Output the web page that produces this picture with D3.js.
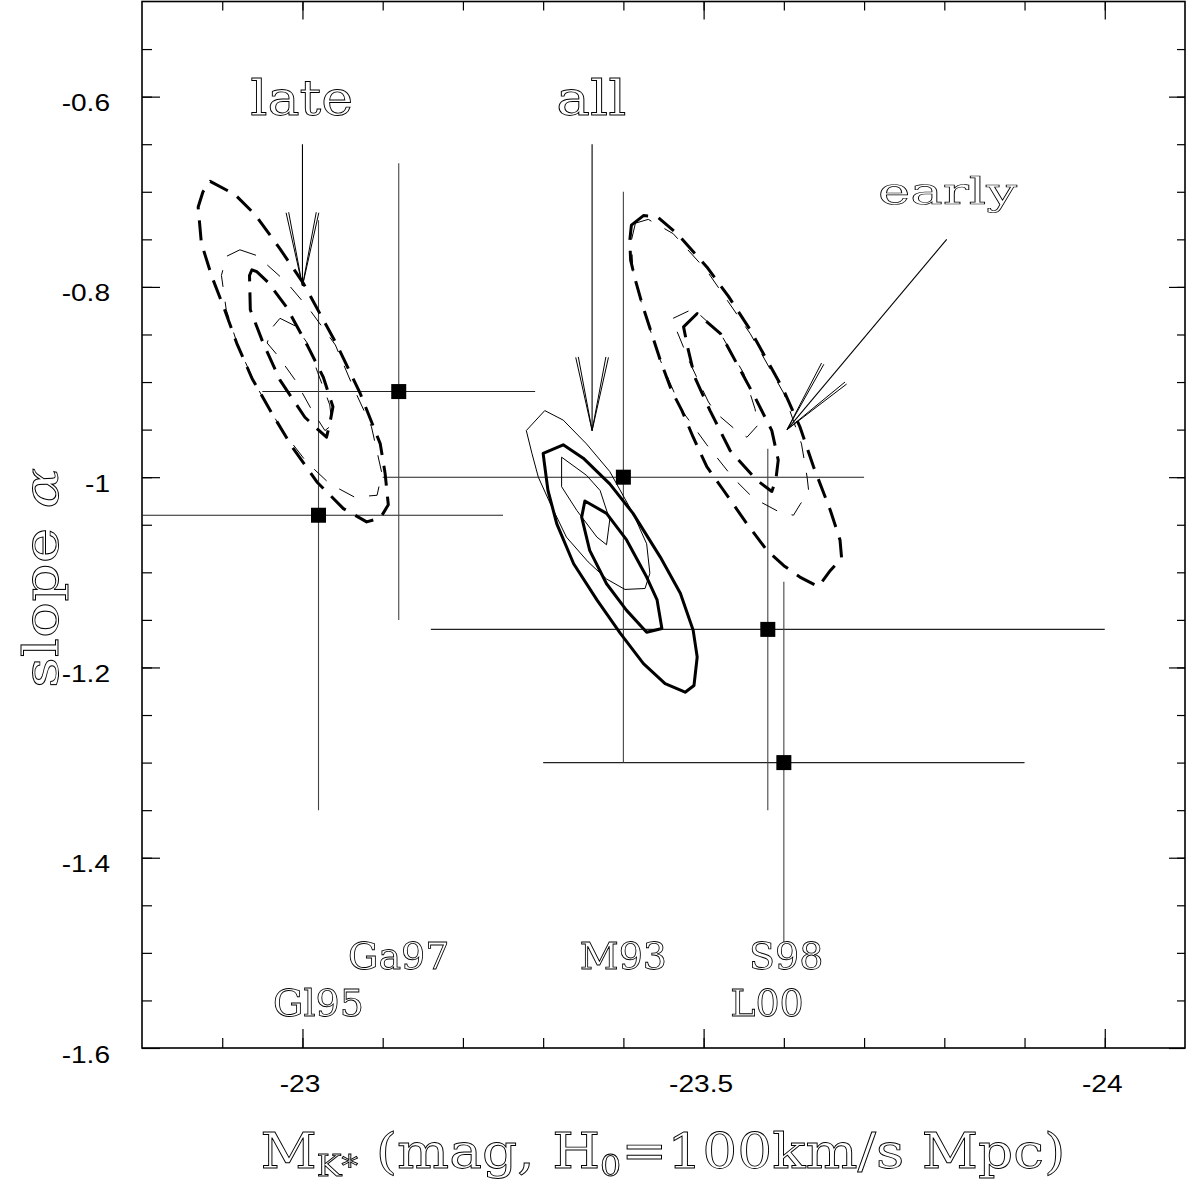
<!DOCTYPE html>
<html>
<head>
<meta charset="utf-8">
<script src="https://cdn.jsdelivr.net/npm/d3@7"></script>
<style>
  body { margin: 0; background: #fff; }
  .word { will-change: transform; }
</style>
</head>
<body>
<svg id="chart" width="1188" height="1183"></svg>
<script>
// ---- data ----
// literature points: M_K* and faint-end slope alpha with their errors
const sampleNames = ["Gl95", "Ga97", "M93", "S98", "L00"];
const magStar     = [-23.02, -23.12, -23.40, -23.58, -23.60];
const slopeAlpha  = [-1.04, -0.91, -1.00, -1.16, -1.30];
const magErr      = [0.23, 0.17, 0.30, 0.42, 0.30];
const slopeErr    = [0.31, 0.24, 0.30, 0.19, 0.19];
// where the sample names sit
const nameMag     = [-23.02, -23.12, -23.40, -23.603, -23.579];
const nameSlope   = [-1.566, -1.517, -1.517, -1.517, -1.566];

// likelihood contours, [M, alpha]
const lateThickOuter = [[-22.885,-0.689],[-22.916,-0.703],[-22.941,-0.724],[-22.972,-0.760],[-23.001,-0.796],[-23.043,-0.861],[-23.072,-0.912],[-23.097,-0.965],[-23.103,-0.996],[-23.107,-1.029],[-23.097,-1.043],[-23.080,-1.047],[-23.051,-1.033],[-23.018,-1.005],[-22.987,-0.968],[-22.962,-0.933],[-22.937,-0.896],[-22.918,-0.859],[-22.903,-0.824],[-22.887,-0.789],[-22.874,-0.754],[-22.870,-0.716],[-22.876,-0.700]];
const lateThickInner = [[-22.937,-0.782],[-22.943,-0.784],[-22.957,-0.795],[-22.980,-0.821],[-23.007,-0.863],[-23.026,-0.895],[-23.038,-0.926],[-23.034,-0.944],[-23.030,-0.958],[-23.018,-0.949],[-23.003,-0.937],[-22.972,-0.898],[-22.951,-0.859],[-22.935,-0.824],[-22.934,-0.788]];
const lateThinOuter = [[-22.922,-0.761],[-22.943,-0.767],[-22.980,-0.795],[-23.009,-0.824],[-23.041,-0.861],[-23.063,-0.905],[-23.086,-0.947],[-23.099,-0.996],[-23.093,-1.019],[-23.065,-1.021],[-23.034,-1.007],[-23.005,-0.984],[-22.984,-0.961],[-22.972,-0.947],[-22.943,-0.905],[-22.920,-0.863],[-22.905,-0.824],[-22.899,-0.788],[-22.905,-0.768]];
const lateThinInner = [[-22.972,-0.833],[-22.991,-0.841],[-23.006,-0.859],[-23.019,-0.890],[-23.034,-0.924],[-23.037,-0.945],[-23.028,-0.951],[-23.012,-0.930],[-22.991,-0.898],[-22.969,-0.872],[-22.956,-0.859],[-22.962,-0.843]];

const allThinOuter = [[-23.302,-0.930],[-23.325,-0.940],[-23.354,-0.965],[-23.383,-0.994],[-23.412,-1.038],[-23.429,-1.070],[-23.433,-1.101],[-23.427,-1.117],[-23.402,-1.118],[-23.379,-1.107],[-23.356,-1.089],[-23.329,-1.063],[-23.309,-1.028],[-23.294,-1.000],[-23.286,-0.975],[-23.279,-0.951]];
const allThickOuter = [[-23.300,-0.975],[-23.325,-0.966],[-23.350,-0.980],[-23.383,-1.007],[-23.412,-1.038],[-23.446,-1.084],[-23.471,-1.122],[-23.487,-1.161],[-23.492,-1.189],[-23.488,-1.219],[-23.477,-1.226],[-23.452,-1.217],[-23.425,-1.196],[-23.396,-1.164],[-23.367,-1.129],[-23.338,-1.091],[-23.317,-1.049],[-23.306,-1.014],[-23.301,-0.982]];
const allThinInner = [[-23.323,-0.979],[-23.354,-0.998],[-23.371,-1.014],[-23.383,-1.045],[-23.379,-1.071],[-23.367,-1.063],[-23.342,-1.035],[-23.323,-1.010]];
const allThickInner = [[-23.352,-1.025],[-23.379,-1.038],[-23.404,-1.066],[-23.429,-1.105],[-23.442,-1.129],[-23.448,-1.159],[-23.429,-1.163],[-23.404,-1.140],[-23.379,-1.112],[-23.358,-1.077],[-23.348,-1.042]];

const earlyThickOuter = [[-23.410,-0.735],[-23.425,-0.725],[-23.442,-0.726],[-23.467,-0.744],[-23.504,-0.779],[-23.531,-0.810],[-23.558,-0.845],[-23.579,-0.877],[-23.600,-0.909],[-23.620,-0.947],[-23.637,-0.989],[-23.658,-1.035],[-23.670,-1.066],[-23.672,-1.085],[-23.658,-1.098],[-23.643,-1.115],[-23.620,-1.105],[-23.600,-1.093],[-23.579,-1.077],[-23.554,-1.049],[-23.525,-1.014],[-23.504,-0.989],[-23.487,-0.958],[-23.473,-0.930],[-23.460,-0.909],[-23.446,-0.877],[-23.431,-0.838],[-23.423,-0.817],[-23.415,-0.793],[-23.409,-0.772],[-23.408,-0.751]];
const earlyThickInner = [[-23.475,-0.842],[-23.492,-0.828],[-23.521,-0.849],[-23.541,-0.880],[-23.564,-0.916],[-23.585,-0.951],[-23.593,-0.982],[-23.590,-1.003],[-23.585,-1.015],[-23.566,-1.003],[-23.533,-0.972],[-23.508,-0.930],[-23.489,-0.895],[-23.480,-0.863]];
const earlyThinOuter = [[-23.415,-0.733],[-23.431,-0.729],[-23.462,-0.744],[-23.504,-0.783],[-23.558,-0.849],[-23.600,-0.912],[-23.622,-0.965],[-23.629,-1.000],[-23.631,-1.015],[-23.620,-1.029],[-23.612,-1.040],[-23.593,-1.036],[-23.562,-1.022],[-23.537,-1.001],[-23.504,-0.966],[-23.473,-0.930],[-23.446,-0.877],[-23.425,-0.824],[-23.412,-0.786],[-23.410,-0.751]];
const earlyThinInner = [[-23.462,-0.833],[-23.487,-0.823],[-23.521,-0.849],[-23.550,-0.891],[-23.564,-0.928],[-23.568,-0.945],[-23.554,-0.958],[-23.541,-0.951],[-23.516,-0.933],[-23.506,-0.921],[-23.483,-0.880],[-23.466,-0.845]];

// arrows pointing to the best fits, with their words
const arrowNames = ["late", "all", "early"];
const arrowTail  = [[-23.000, -0.650], [-23.361, -0.650], [-23.803, -0.750]];
const arrowTip   = [[-23.000, -0.799], [-23.361, -0.951], [-23.604, -0.950]];
const arrowWordAt = [[-22.999, -0.619], [-23.360, -0.619], [-23.804, -0.713]];

// axes
const xMajorTicks = [-23, -23.5, -24];
const yMajorTicks = [-0.6, -0.8, -1.0, -1.2, -1.4, -1.6];

// ---- layout ----
const svg = d3.select("#chart");
const X0 = 142, X1 = 1185, Y0 = 1.5, Y1 = 1048;
const x = d3.scaleLinear().domain([-22.8, -24.1]).range([X0, X1]);
const y = d3.scaleLinear().domain([-0.5, -1.6]).range([Y0, Y1]);
const xMinor = d3.range(1, 13).map(i => +(-22.8 - i * 0.1).toFixed(2));
const yMinor = d3.range(1, 22).map(i => +(-0.5 - i * 0.05).toFixed(2));

svg.append("clipPath").attr("id", "plotClip")
  .append("rect").attr("x", X0).attr("y", Y0).attr("width", X1 - X0).attr("height", Y1 - Y0);

// stretch helper: the original tick font is wider than Helvetica
function widen(sel, f) {
  sel.each(function() {
    const w = this.getComputedTextLength();
    d3.select(this).attr("textLength", w * f).attr("lengthAdjust", "spacingAndGlyphs");
  });
}

function ticks(axis, tr, vals, len) {
  const g = svg.append("g").attr("transform", tr)
    .call(axis.tickValues(vals).tickSize(-len).tickSizeOuter(0).tickFormat(""));
  g.select(".domain").remove();
  g.selectAll(".tick line").attr("stroke", "#000").attr("stroke-width", 1.2);
  return g;
}
ticks(d3.axisBottom(x), `translate(0,${Y1})`, xMinor, 10);
ticks(d3.axisTop(x), `translate(0,${Y0})`, xMinor, 9);
ticks(d3.axisTop(x), `translate(0,${Y0})`, xMajorTicks, 18);
ticks(d3.axisLeft(y), `translate(${X0},0)`, yMinor, 10);
ticks(d3.axisRight(y), `translate(${X1},0)`, yMinor, 8);
ticks(d3.axisRight(y), `translate(${X1},0)`, yMajorTicks, 16);

const gx = svg.append("g").attr("transform", `translate(0,${Y1})`)
  .call(d3.axisBottom(x).tickValues(xMajorTicks).tickSize(-19).tickSizeOuter(0).tickFormat(d => String(d)));
gx.select(".domain").remove();
gx.selectAll(".tick line").attr("stroke", "#000").attr("stroke-width", 1.2);
gx.selectAll("text").attr("y", 44).attr("dy", null).attr("x", -3)
  .attr("font-size", 24).attr("font-family", "Liberation Sans, Arial, sans-serif").attr("fill", "#000");
widen(gx.selectAll("text"), 1.17);

const gy = svg.append("g").attr("transform", `translate(${X0},0)`)
  .call(d3.axisLeft(y).tickValues(yMajorTicks).tickSize(-18).tickSizeOuter(0).tickFormat(d => String(d)));
gy.select(".domain").remove();
gy.selectAll(".tick line").attr("stroke", "#000").attr("stroke-width", 1.2);
gy.selectAll("text").attr("x", -32).attr("y", 14).attr("dy", null)
  .attr("font-size", 24).attr("font-family", "Liberation Sans, Arial, sans-serif").attr("fill", "#000");
widen(gy.selectAll("text"), 1.17);

svg.append("rect").attr("x", X0).attr("y", Y0).attr("width", X1 - X0).attr("height", Y1 - Y0)
  .attr("fill", "none").attr("stroke", "#000").attr("stroke-width", 1.6);

// ---- plot ----
const plot = svg.append("g").attr("clip-path", "url(#plotClip)");

// error bars
const bars = sampleNames.map((n, i) => ({ n, m: magStar[i], a: slopeAlpha[i], dm: magErr[i], da: slopeErr[i] }));
plot.selectAll(".hbar").data(bars).enter().append("line")
  .attr("x1", d => x(d.m - d.dm)).attr("x2", d => x(d.m + d.dm))
  .attr("y1", d => y(d.a)).attr("y2", d => y(d.a))
  .attr("stroke", "#222").attr("stroke-width", 1.1);
plot.selectAll(".vbar").data(bars).enter().append("line")
  .attr("x1", d => x(d.m)).attr("x2", d => x(d.m))
  .attr("y1", d => y(d.a + d.da)).attr("y2", d => y(d.a - d.da))
  .attr("stroke", "#444").attr("stroke-width", 1.1);

// contours
const contourLine = d3.line().x(d => x(d[0])).y(d => y(d[1])).curve(d3.curveLinearClosed);
const contours = [
  { pts: lateThickOuter, w: 3, dash: "20,11" },
  { pts: lateThickInner, w: 3, dash: "20,11" },
  { pts: lateThinOuter, w: 1, dash: "17,15" },
  { pts: lateThinInner, w: 1, dash: "17,15" },
  { pts: allThinOuter, w: 1, dash: null },
  { pts: allThickOuter, w: 3, dash: null },
  { pts: allThinInner, w: 1, dash: null },
  { pts: allThickInner, w: 3, dash: null },
  { pts: earlyThickOuter, w: 3, dash: "20,11" },
  { pts: earlyThickInner, w: 3, dash: "20,11" },
  { pts: earlyThinOuter, w: 1, dash: "17,15" },
  { pts: earlyThinInner, w: 1, dash: "17,15" }
];
plot.selectAll(".contour").data(contours).enter().append("path")
  .attr("class", "contour")
  .attr("d", d => contourLine(d.pts))
  .attr("fill", "none").attr("stroke", "#000")
  .attr("stroke-width", d => d.w)
  .attr("stroke-dasharray", d => d.dash)
  .attr("stroke-linejoin", "round");

// squares
plot.selectAll(".pt").data(bars).enter().append("rect")
  .attr("x", d => x(d.m) - 7.5).attr("y", d => y(d.a) - 7.5)
  .attr("width", 15).attr("height", 15).attr("fill", "#000");

// arrows (open V heads drawn as doubled strokes)
arrowNames.forEach((n, i) => {
  const tx = x(arrowTail[i][0]), ty = y(arrowTail[i][1]);
  const px = x(arrowTip[i][0]), py = y(arrowTip[i][1]);
  plot.append("line").attr("x1", tx).attr("y1", ty).attr("x2", px).attr("y2", py)
    .attr("stroke", "#000").attr("stroke-width", 1.1);
  const ang = Math.atan2(ty - py, tx - px);
  [-12.6, -10.6, 10.6, 12.6].forEach(deg => {
    const a = ang + deg * Math.PI / 180;
    plot.append("line").attr("x1", px).attr("y1", py)
      .attr("x2", px + 75 * Math.cos(a)).attr("y2", py + 75 * Math.sin(a))
      .attr("stroke", "#000").attr("stroke-width", 1);
  });
});

// outlined serif words, in the spirit of the plotter font
function outlined(g, txt, px, py, size, width, sy) {
  const t = g.append("text")
    .attr("class", "word")
    .attr("transform", `translate(${px},${py}) scale(1,${sy || 1})`)
    .attr("text-anchor", "middle")
    .attr("font-family", "DejaVu Serif, serif").attr("font-size", size)
    .attr("fill", "#fff").attr("stroke", "#000").attr("stroke-width", 0.85)
    .text(txt);
  if (width) t.attr("textLength", width).attr("lengthAdjust", "spacingAndGlyphs");
  return t;
}
const wordWidths = [103, 70, 139];
const wordScale = [1, 1, 0.76];
arrowNames.forEach((n, i) => {
  outlined(svg, n, x(arrowWordAt[i][0]), y(arrowWordAt[i][1]), 48, wordWidths[i], wordScale[i]);
});
sampleNames.forEach((n, i) => {
  outlined(svg, n, x(nameMag[i]), y(nameSlope[i]), 38, null, 1);
});

// axis titles
const yt = svg.append("text")
  .attr("class", "word")
  .attr("transform", "translate(58,578) rotate(-90)")
  .attr("text-anchor", "middle")
  .attr("font-family", "DejaVu Serif, serif").attr("font-size", 48)
  .attr("fill", "#fff").attr("stroke", "#000").attr("stroke-width", 0.85)
  .attr("textLength", 220).attr("lengthAdjust", "spacingAndGlyphs");
yt.append("tspan").text("slope ");
yt.append("tspan").attr("font-style", "italic").text("α");

const xt = svg.append("text")
  .attr("class", "word")
  .attr("x", 663).attr("y", 1168)
  .attr("text-anchor", "middle")
  .attr("font-family", "DejaVu Serif, serif").attr("font-size", 48)
  .attr("fill", "#fff").attr("stroke", "#000").attr("stroke-width", 0.85)
  .attr("textLength", 805).attr("lengthAdjust", "spacingAndGlyphs");
xt.append("tspan").text("M");
xt.append("tspan").attr("font-size", 29).attr("dy", 8).text("K*");
xt.append("tspan").attr("dy", -8).text(" (mag, H");
xt.append("tspan").attr("font-size", 29).attr("dy", 8).text("0");
xt.append("tspan").attr("dy", -8).text("=100km/s Mpc)");
</script>
</body>
</html>
